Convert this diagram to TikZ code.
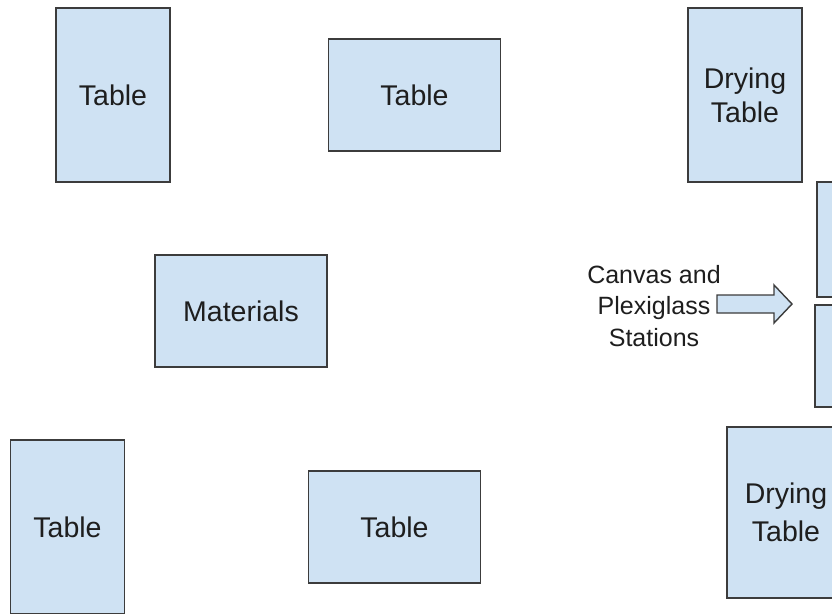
\documentclass[tikz,border=0pt]{standalone}
\usepackage{fontspec}
\setmainfont{Liberation Sans}
\usepackage{tikz}
\definecolor{tablefill}{HTML}{CFE2F3}
\definecolor{tableline}{HTML}{3C3C3C}
\definecolor{labeltext}{HTML}{1E1E1E}

\begin{document}
\begin{tikzpicture}[x=1pt,y=-1pt,
    tbl/.style={draw=tableline,fill=tablefill,line width=1.4pt,rectangle,
        text=labeltext,align=center,inner sep=0pt,font=\fontsize{28.5}{34}\selectfont},
    tall/.style={tbl,minimum width=114pt,minimum height=174pt},
    wide/.style={tbl,minimum width=172pt,minimum height=112pt}]
\useasboundingbox (0,0) rectangle (832,613);
\clip (0,0) rectangle (832,613);
\fill[white] (0,0) rectangle (832,613);

\node[tall] (t_1) at (113,95) {Table};
\node[wide] (t_2) at (414.5,95) {Table};
\node[tall] (dry_1) at (745,95) {Drying\\Table};
\node[tbl,minimum width=100pt,minimum height=115pt] (st_1) at (867,239.5) {};
\node[tbl,minimum width=100pt,minimum height=102pt] (st_2) at (865,356) {};
\node[wide] (mat) at (241,311) {Materials};
\node[tall] (t_3) at (67.5,527) {Table};
\node[wide] (t_4) at (394.5,527) {Table};
\node[tbl,minimum width=118pt,minimum height=171pt,font=\fontsize{28.5}{38}\selectfont]
    (dry_2) at (786,512.5) {Drying\\Table};

\node[text=labeltext,align=center,font=\fontsize{25}{31.5}\selectfont]
    (st_label) at (654,306) {Canvas and\\Plexiglass\\Stations};
\draw[draw=tableline,fill=tablefill,line width=1.4pt,line join=miter]
    (717,295) -- (774,295) -- (774,285) -- (792,304) -- (774,323)
    -- (774,313) -- (717,313) -- cycle;
\end{tikzpicture}
\end{document}
